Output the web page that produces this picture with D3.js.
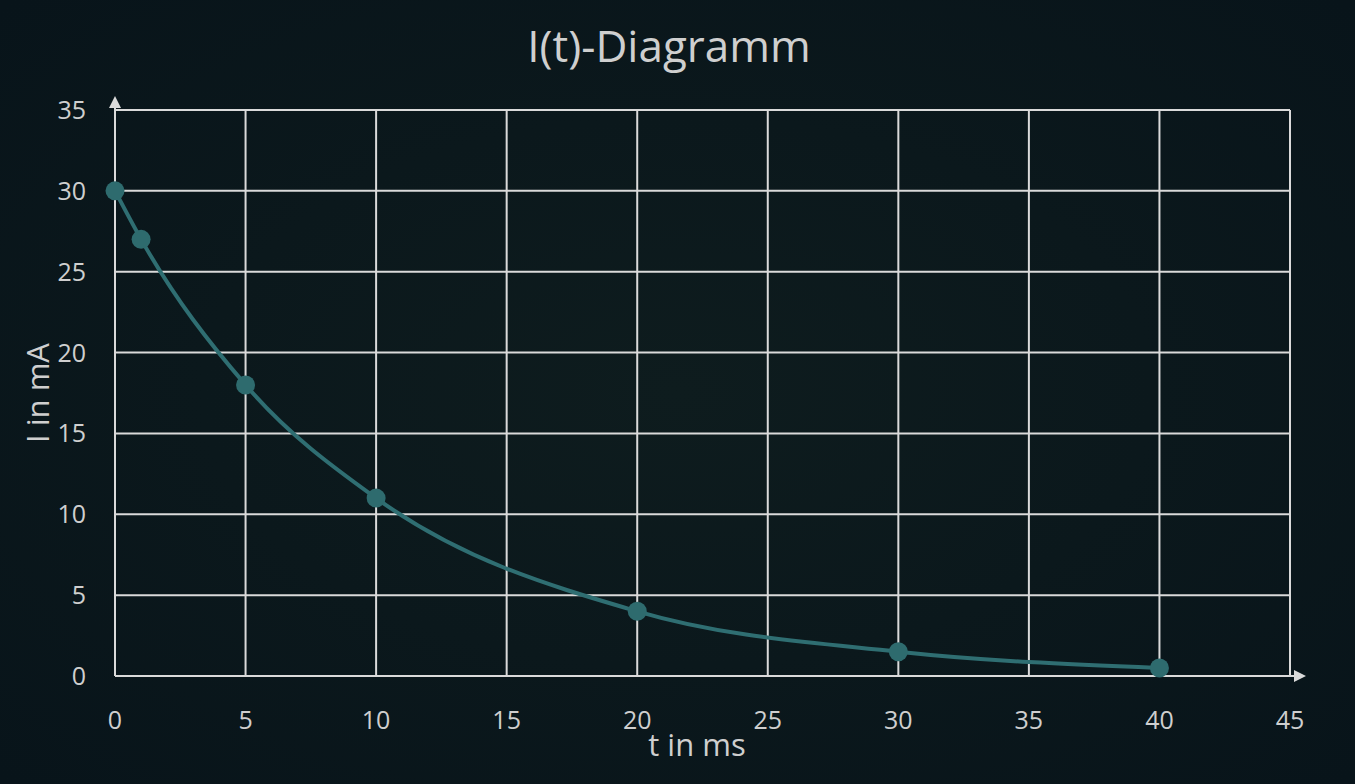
<!DOCTYPE html>
<html><head><meta charset="utf-8">
<script src="https://cdn.jsdelivr.net/npm/d3@7"></script>
<style>body{margin:0;background:#0b181c;}svg{display:block}</style>
</head><body>
<svg id="c" width="1355" height="784"></svg>
<script>
const tValues=[0,1,5,10,20,30,40];
const iValues=[30,27,18,11,4,1.5,0.5];
const xTicks=[0,5,10,15,20,25,30,35,40,45];
const yTicks=[0,5,10,15,20,25,30,35];
const svg=d3.select("#c");
const defs=svg.append("defs");
const g=defs.append("radialGradient").attr("id","bg").attr("cx","50%").attr("cy","50%").attr("r","70%");
g.append("stop").attr("offset","0%").attr("stop-color","#0e1c1e");
g.append("stop").attr("offset","100%").attr("stop-color","#08141a");
svg.append("rect").attr("width",1355).attr("height",784).attr("fill","url(#bg)");
const x=d3.scaleLinear().domain([0,45]).range([115,1290]);
const y=d3.scaleLinear().domain([0,35]).range([676,110]);
const font="'Open Sans', 'Noto Sans', sans-serif";
const grid="#dadada";
const txt="#cfcfcf";
svg.append("g").selectAll("line").data(xTicks).join("line")
 .attr("x1",d=>x(d)).attr("x2",d=>x(d)).attr("y1",y(35)).attr("y2",y(0))
 .attr("stroke",grid).attr("stroke-width",2);
svg.append("g").selectAll("line").data(yTicks).join("line")
 .attr("y1",d=>y(d)).attr("y2",d=>y(d)).attr("x1",x(0)).attr("x2",x(45))
 .attr("stroke",grid).attr("stroke-width",2);
svg.append("line").attr("x1",x(0)).attr("x2",x(0)).attr("y1",y(35)).attr("y2",102).attr("stroke",grid).attr("stroke-width",2);
svg.append("path").attr("d",`M${x(0)-6},${108}L${x(0)},${96}L${x(0)+6},${108}Z`).attr("fill",grid);
svg.append("line").attr("x1",x(45)).attr("x2",1298).attr("y1",y(0)).attr("y2",y(0)).attr("stroke",grid).attr("stroke-width",2);
svg.append("path").attr("d",`M1294,${y(0)-6}L1306,${y(0)}L1294,${y(0)+6}Z`).attr("fill",grid);
svg.append("g").selectAll("text").data(yTicks).join("text")
 .attr("x",86).attr("y",d=>y(d)+9).attr("text-anchor","end")
 .attr("font-family",font).attr("font-size",25).attr("fill",txt).text(d=>d);
svg.append("g").selectAll("text").data(xTicks).join("text")
 .attr("x",d=>x(d)).attr("y",729).attr("text-anchor","middle")
 .attr("font-family",font).attr("font-size",25).attr("fill",txt).text(d=>d);
svg.append("text").attr("x",669).attr("y",62).attr("text-anchor","middle")
 .attr("font-family",font).attr("font-size",44).attr("fill",txt).text("I(t)-Diagramm");
svg.append("text").attr("x",697).attr("y",756).attr("text-anchor","middle")
 .attr("font-family",font).attr("font-size",31).attr("fill",txt).text("t in ms");
svg.append("text").attr("transform","translate(49,393) rotate(-90)").attr("text-anchor","middle")
 .attr("font-family",font).attr("font-size",31).attr("fill",txt).text("I in mA");
const pts=tValues.map((t,i)=>[t,iValues[i]]);
const line=d3.line().x(d=>x(d[0])).y(d=>y(d[1])).curve(d3.curveMonotoneX);
svg.append("path").attr("d",line(pts)).attr("fill","none").attr("stroke","#2f6e72").attr("stroke-width",4);
svg.append("g").selectAll("circle").data(pts).join("circle")
 .attr("cx",d=>x(d[0])).attr("cy",d=>y(d[1])).attr("r",9.5).attr("fill","#2e6b6e");
</script>
</body></html>
